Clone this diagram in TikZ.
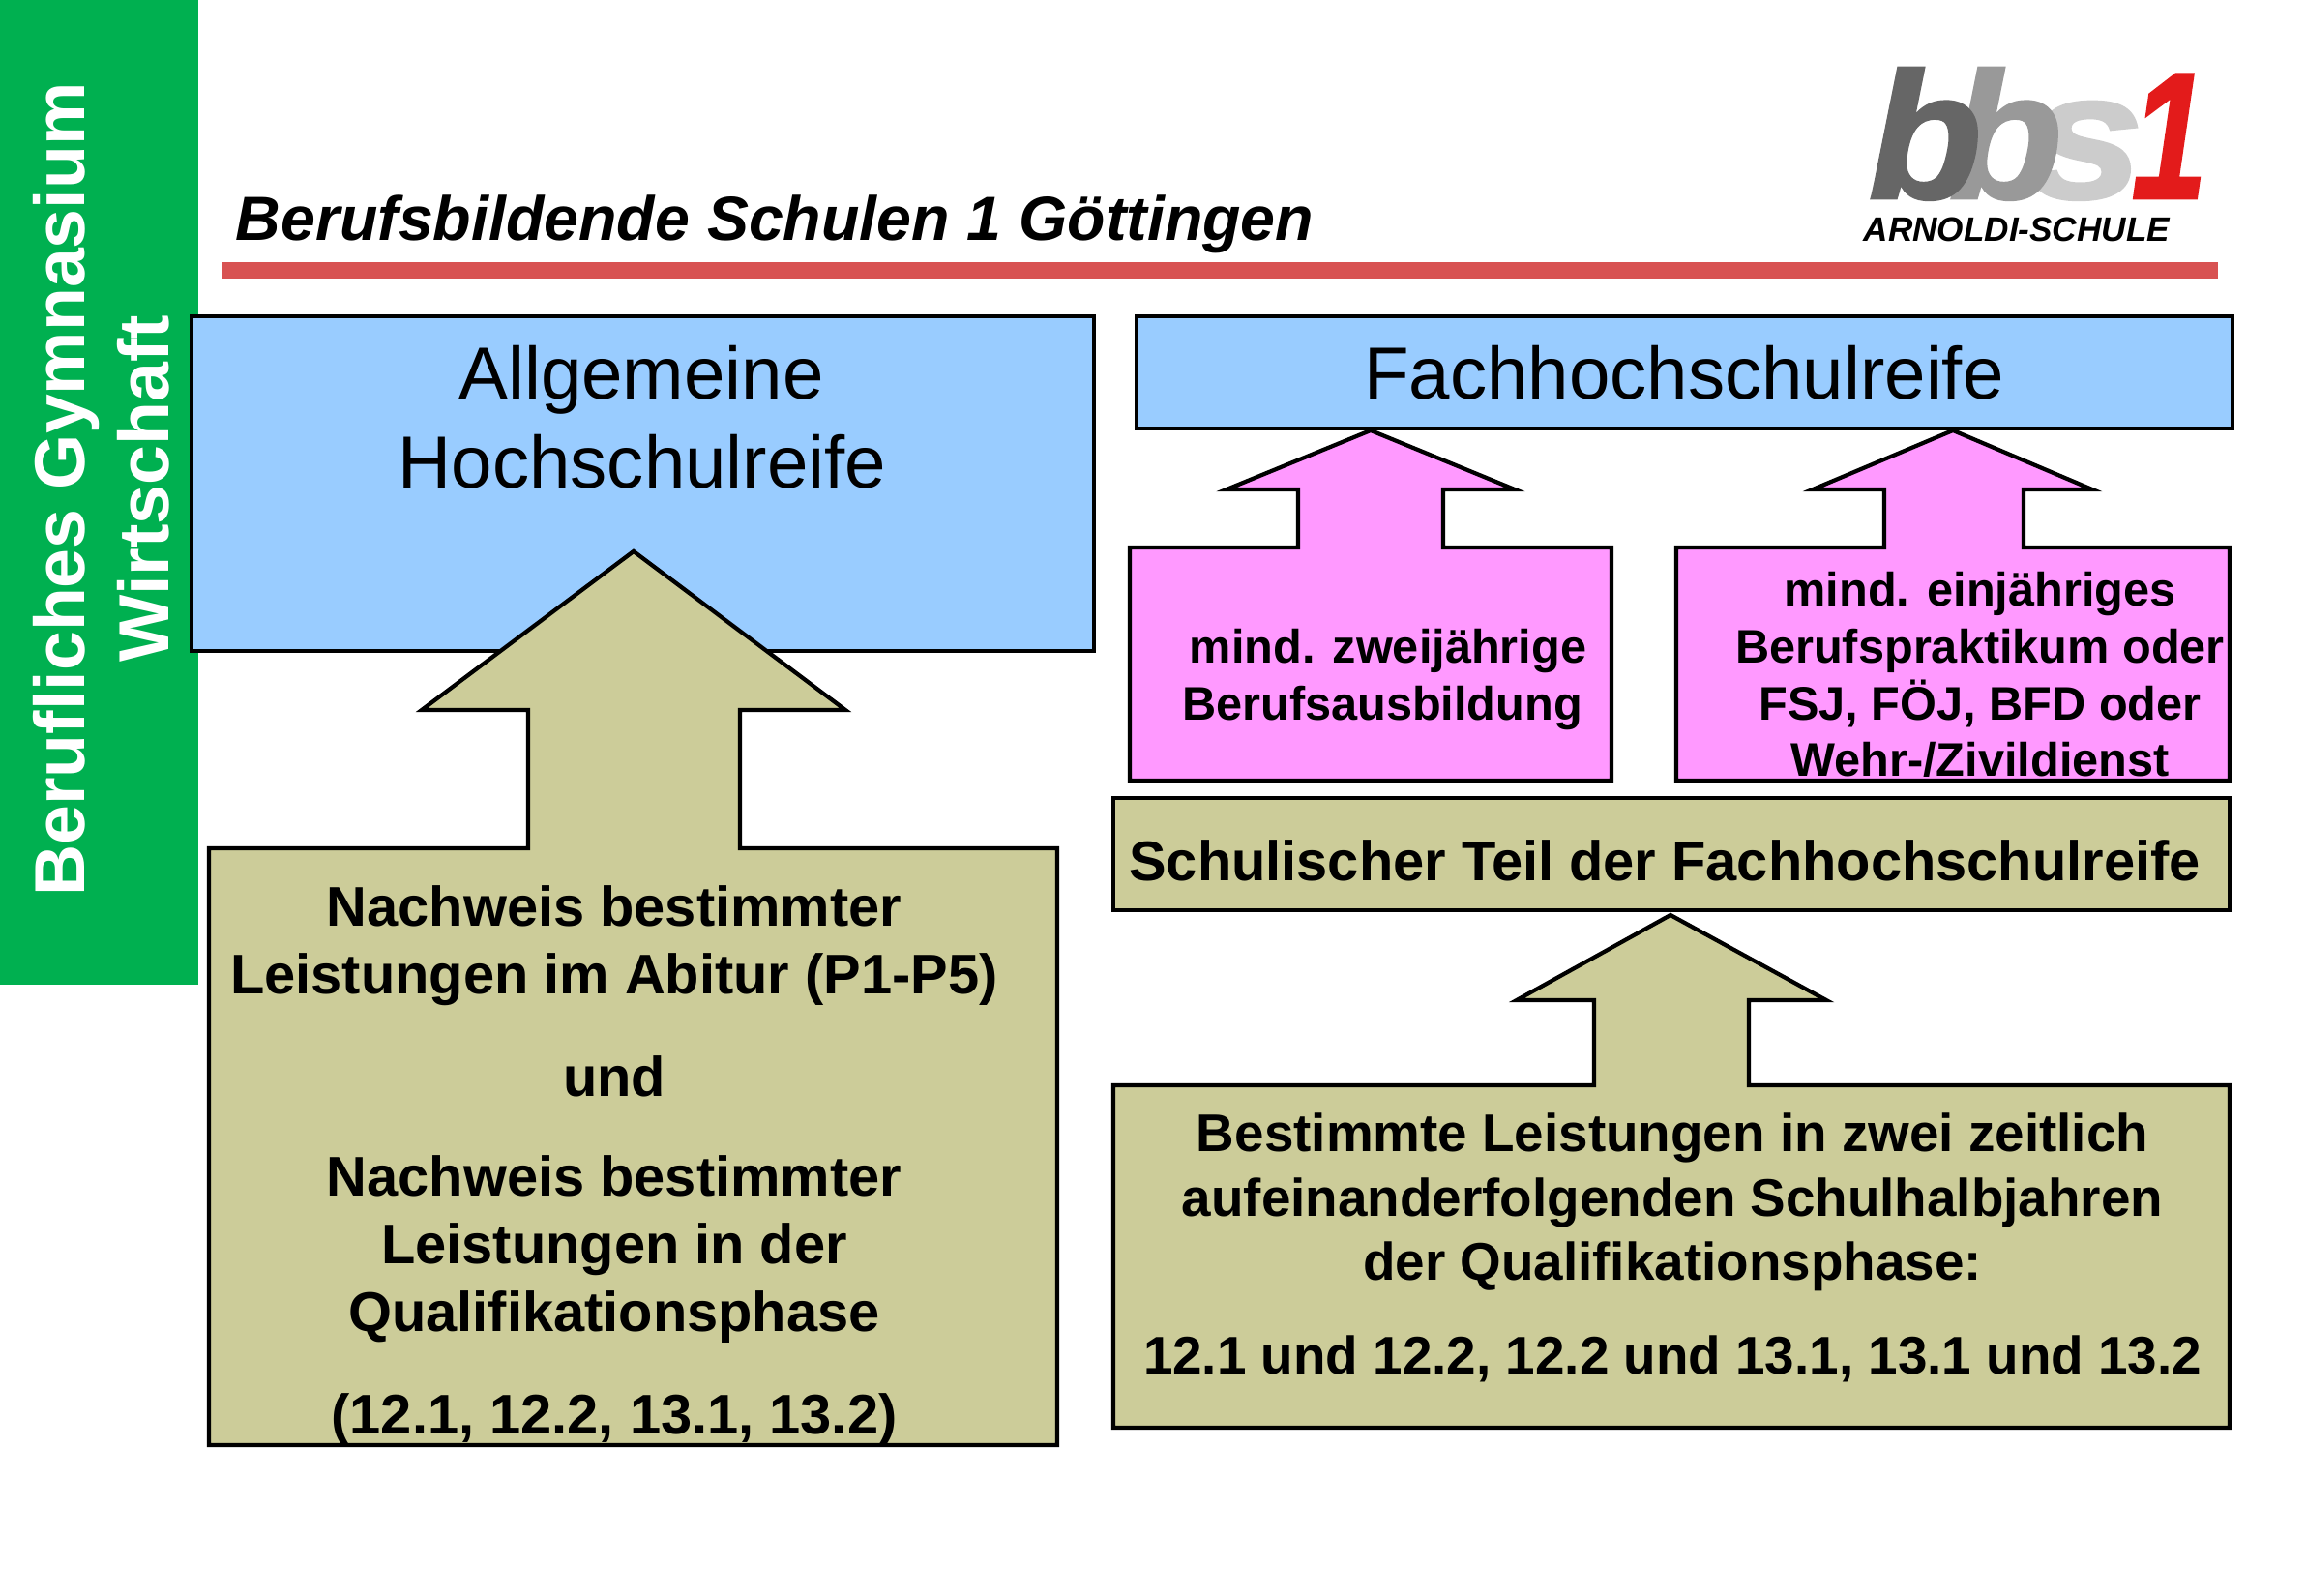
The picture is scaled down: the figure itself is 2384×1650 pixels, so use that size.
\documentclass[tikz,border=0pt]{standalone}
\usepackage{fontspec}
\setmainfont{Liberation Sans}
\newfontfamily\logofont{Liberation Sans}[BoldItalicFeatures={FakeBold=1.5}]
\definecolor{skyblue}{HTML}{99CCFF}
\definecolor{khaki}{HTML}{CCCC99}
\definecolor{pinkbox}{HTML}{FF99FF}
\definecolor{sidegreen}{HTML}{00B050}
\definecolor{barred}{HTML}{D85252}
\definecolor{logored}{HTML}{E31B1B}
\tikzset{
  line/.style={anchor=base, inner sep=0pt, font=\fontsize{16.45pt}{18pt}\selectfont\bfseries},
  midline/.style={anchor=base, inner sep=0pt, font=\fontsize{15.6pt}{18pt}\selectfont\bfseries},
  smallline/.style={anchor=base, inner sep=0pt, font=\fontsize{13.85pt}{16pt}\selectfont\bfseries},
  title/.style={anchor=base, inner sep=0pt, font=\fontsize{21.7pt}{24pt}\selectfont},
  side/.style={anchor=base, inner sep=0pt, rotate=90, text=white, font=\fontsize{20.9pt}{24pt}\selectfont\bfseries},
  logo/.style={anchor=base west, inner sep=0pt, font=\fontsize{53pt}{60pt}\logofont\bfseries\itshape},
  shapeline/.style={draw=black, line width=1.2pt, miter limit=20}
}
\begin{document}
\begin{tikzpicture}[x=0.1mm, y=-0.1mm]
  \useasboundingbox (0,0) rectangle (2384,1650);
  % side bar
  \fill[sidegreen] (0,0) rectangle (205,1018);
  \node[side] (sidea) at (87,506) {Berufliches Gymnasium};
  \node[side] (sideb) at (174,505) {Wirtschaft};
  % head line and logo
  \node[anchor=base west, inner sep=0pt, font=\fontsize{18.35pt}{20pt}\selectfont\bfseries\itshape] (school) at (243,249) {Berufsbildende Schulen 1 Göttingen};
  \fill[barred] (230,271) rectangle (2293,288);
  \node[logo, text=black!20, xscale=1.15] (logos) at (2096,205) {s};
  \node[logo, text=black!40, xscale=1.03] (logob) at (2014,205) {b};
  \node[logo, text=black!60, xscale=1.03] (logoa) at (1931,205) {b};
  \node[logo, text=logored, anchor=base east, xscale=0.75] (logoone) at (2282,205) {1};
  \node[anchor=base west, inner sep=0pt, font=\fontsize{10pt}{11pt}\selectfont\bfseries\itshape] (logotext) at (1926,250) {ARNOLDI-SCHULE};
  % blue boxes
  \draw[shapeline, fill=skyblue] (198,327) rectangle (1131,673);
  \draw[shapeline, fill=skyblue] (1175,327) rectangle (2308,443);
  \node[title] (ahra) at (663,413) {Allgemeine};
  \node[title] (ahrb) at (664,505) {Hochschulreife};
  \node[title] (fhr) at (1741,413) {Fachhochschulreife};
  % arrow boxes
  \draw[shapeline, fill=khaki] (655,570) -- (874,734) -- (765,734) -- (765,877) -- (1093,877) -- (1093,1494) -- (216,1494) -- (216,877) -- (546,877) -- (546,734) -- (436,734) -- cycle;
  \draw[shapeline, fill=pinkbox] (1417,445) -- (1566,506) -- (1492,506) -- (1492,566) -- (1666,566) -- (1666,807) -- (1168,807) -- (1168,566) -- (1342,566) -- (1342,506) -- (1268,506) -- cycle;
  \draw[shapeline, fill=pinkbox] (2019,445) -- (2163,506) -- (2092,506) -- (2092,566) -- (2305,566) -- (2305,807) -- (1733,807) -- (1733,566) -- (1948,566) -- (1948,506) -- (1874,506) -- cycle;
  \draw[shapeline, fill=khaki] (1151,825) rectangle (2305,941);
  \draw[shapeline, fill=khaki] (1727,946) -- (1888,1034) -- (1808,1034) -- (1808,1122) -- (2305,1122) -- (2305,1476) -- (1151,1476) -- (1151,1122) -- (1648,1122) -- (1648,1034) -- (1568,1034) -- cycle;
  % box texts
  \foreach \y/\t [count=\n] in {958/Nachweis bestimmter,1028/Leistungen im Abitur (P1-P5),1133/und,1236/Nachweis bestimmter,1306/Leistungen in der,1376/Qualifikationsphase,1482/{(12.1, 12.2, 13.1, 13.2)}} {
    \node[line] (abi\n) at (635,\y) {\t};
  }
  \node[smallline] (ausba) at (1435,686) {mind. zweijährige};
  \node[smallline] (ausbb) at (1429,745) {Berufsausbildung};
  \foreach \y/\t [count=\n] in {627/mind. einjähriges,686/Berufspraktikum oder,745/{FSJ, FÖJ, BFD oder},803/{Wehr-/Zivildienst}} {
    \node[smallline] (prak\n) at (2047,\y) {\t};
  }
  \node[line] (teil) at (1721,910) {Schulischer Teil der Fachhochschulreife};
  \foreach \y/\t [count=\n] in {1190/Bestimmte Leistungen in zwei zeitlich,1257/aufeinanderfolgenden Schulhalbjahren,1323/der Qualifikationsphase:,1420/{12.1 und 12.2, 12.2 und 13.1, 13.1 und 13.2}} {
    \node[midline] (halb\n) at (1729,\y) {\t};
  }
\end{tikzpicture}
\end{document}
